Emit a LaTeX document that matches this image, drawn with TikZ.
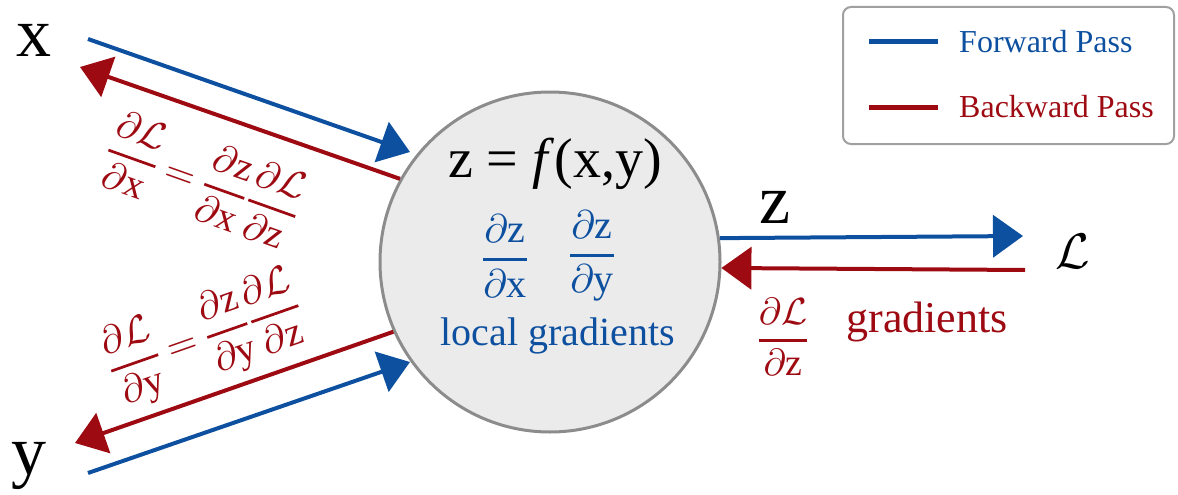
\documentclass[tikz,border=0pt]{standalone}
\usepackage{amsmath}
\usepackage{fontspec}
\setmainfont{Liberation Serif}
\setmathrm{Liberation Serif}
\usetikzlibrary{arrows.meta}
\definecolor{fwd}{RGB}{14,80,160}
\definecolor{bwd}{RGB}{158,10,18}
\definecolor{nodefill}{RGB}{235,235,235}
\definecolor{nodeline}{RGB}{140,140,140}
\definecolor{legline}{RGB}{160,160,160}
\newcommand{\tfr}[2]{\genfrac{}{}{0.7pt}{0}{#1}{#2}}
\tikzset{
  pass/.style={line width=4pt, -{Triangle[length=30pt,width=42pt]}},
  fwdarrow/.style={pass, color=fwd},
  bwdarrow/.style={pass, color=bwd},
  var/.style={font=\fontsize{70}{72}\selectfont, inner sep=0pt},
  eqn/.style={font=\fontsize{10}{12}\selectfont, scale=3.9, inner sep=0pt, text=bwd},
  bluefrac/.style={font=\fontsize{10}{12}\selectfont, scale=4.0, inner sep=0pt, text=fwd},
  legtext/.style={font=\fontsize{32}{34}\selectfont, inner sep=0pt, anchor=west},
  legline/.style={line width=5pt},
  fnode/.style={circle, draw=nodeline, fill=nodefill, line width=3pt, minimum size=340pt, inner sep=0pt}
}
\begin{document}
\begin{tikzpicture}[x=1pt,y=-1pt]
\useasboundingbox (0,0) rectangle (1178,495);
% main node
\node[fnode] (f) at (550,262) {};
\node[inner sep=0pt, font=\fontsize{56}{60}\selectfont] (fz) at (555,164) {z = \textit{f}(x,y)};
\node[bluefrac] (dzdx) at (505,256) {$\nulldelimiterspace=0pt\tfr{\partial\mathrm{z}}{\partial\mathrm{x}}$};
\node[bluefrac] (dzdy) at (592,256) {$\nulldelimiterspace=0pt\tfr{\partial\mathrm{z}}{\partial\mathrm{y}}$};
\node[inner sep=0pt, font=\fontsize{40}{44}\selectfont, text=fwd] (lg) at (558,336) {local gradients};
% variables
\node[var] (x) at (34,40) {x};
\node[var] (y) at (29,466) {y};
\node[var] (z) at (775,207) {z};
\node[inner sep=0pt, font=\fontsize{10}{12}\selectfont, scale=5.0] (L) at (1073,251) {$\mathcal{L}$};
% free ends
\coordinate (xs) at (88,39);
\coordinate (xt) at (80,67);
\coordinate (ys) at (88,473);
\coordinate (yt) at (75,443);
\coordinate (ft1) at (410,152);
\coordinate (ft2) at (410,362);
\coordinate (zt) at (1023,236);
\coordinate (Ls) at (1025,270);
% arrows
\draw[fwdarrow] (xs) -- (ft1);
\draw[bwdarrow] (f.151.6) -- (xt);
\draw[bwdarrow] (f.204.1) -- (yt);
\draw[fwdarrow] (ys) -- (ft2);
\draw[fwdarrow] (f.8.8) -- (zt);
\draw[bwdarrow] (Ls) -- (f.-2.7);
% gradient labels
\node[eqn, rotate=-19.6] (gx) at (203,180) {$\nulldelimiterspace=0pt\tfr{\partial\mathcal{L}}{\partial\mathrm{x}}\mskip5mu{=}\mskip5mu\tfr{\partial\mathrm{z}}{\partial\mathrm{x}}\mskip2mu\tfr{\partial\mathcal{L}}{\partial\mathrm{z}}$};
\node[eqn, rotate=19.3] (gy) at (205,339) {$\nulldelimiterspace=0pt\tfr{\partial\mathcal{L}}{\partial\mathrm{y}}\mskip5mu{=}\mskip5mu\tfr{\partial\mathrm{z}}{\partial\mathrm{y}}\mskip2mu\tfr{\partial\mathcal{L}}{\partial\mathrm{z}}$};
\node[eqn, scale=0.97] (gz) at (783,337) {$\nulldelimiterspace=0pt\tfr{\partial\mathcal{L}}{\partial\mathrm{z}}$};
\node[inner sep=0pt, font=\fontsize{44}{48}\selectfont, text=bwd] (grad) at (927,322) {gradients};
% legend
\node[draw=legline, line width=2pt, rounded corners=8pt, minimum width=331pt, minimum height=137pt, inner sep=0pt] (leg) at (1008.5,75.5) {};
\coordinate (lf1) at (869,42);
\coordinate (lf2) at (938,42);
\coordinate (lb1) at (869,107);
\coordinate (lb2) at (938,107);
\draw[legline, fwd] (lf1) -- (lf2);
\draw[legline, bwd] (lb1) -- (lb2);
\node[legtext, text=fwd] (lft) at (959,42) {Forward Pass};
\node[legtext, text=bwd] (lbt) at (959,107) {Backward Pass};
\end{tikzpicture}
\end{document}
